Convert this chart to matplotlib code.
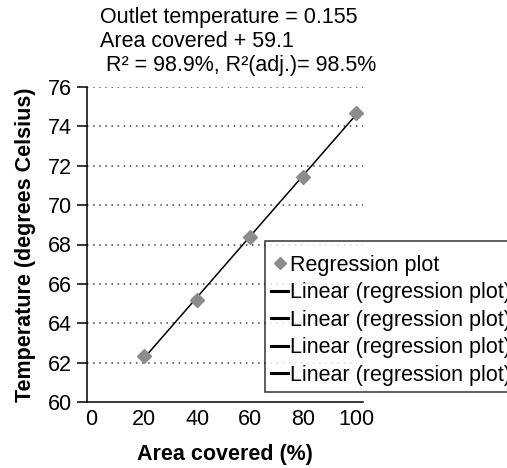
import numpy as np
import matplotlib
matplotlib.use("Agg")
import matplotlib.pyplot as plt
from matplotlib.lines import Line2D

plt.rcParams['font.family'] = ['Liberation Sans', 'DejaVu Sans']

# data
area = [20, 40, 60, 80, 100]
temp = [62.35, 65.2, 68.4, 71.45, 74.7]
y_ticks = [60, 62, 64, 66, 68, 70, 72, 74, 76]
x_ticks = [0, 20, 40, 60, 80, 100]

FS = 15.5

fig = plt.figure(figsize=(5.07, 4.68), dpi=100)
ax = fig.add_axes([87/507, 1 - 402/468, (363 - 87)/507, (402 - 87)/468])

# linear trend line through the points
k, b = np.polyfit(area, temp, 1)
xs = np.array([area[0], area[-1]])
ax.plot(xs, k * xs + b, color='black', lw=1.1, zorder=2)
ax.plot(area, temp, linestyle='none', marker='D', markersize=7.5,
        color='#8c8c8c', zorder=3)

ax.set_xlim(-1.5, 102.5)
ax.set_ylim(60, 76)
ax.set_yticks(y_ticks)
ax.set_xticks(x_ticks)
for yv in y_ticks[1:]:
    ax.axhline(yv, color='#444444', lw=1.1, linestyle=(0, (1, 3)), zorder=1)

for s in ['top', 'right']:
    ax.spines[s].set_visible(False)
ax.spines['left'].set_linewidth(1.1)
ax.spines['bottom'].set_linewidth(1.1)
ax.tick_params(axis='y', length=7, width=1.1, labelsize=FS, pad=4)
ax.tick_params(axis='x', length=0, labelsize=FS, pad=5)

ax.set_xlabel('Area covered (%)', fontsize=FS, fontweight='bold', labelpad=10)
ax.set_ylabel('Temperature (degrees Celsius)', fontsize=FS, fontweight='bold', labelpad=8)

fig.text(100/507, 1 - 7/468,
         'Outlet temperature = 0.155\nArea covered + 59.1\n R\u00b2 = 98.9%, R\u00b2(adj.)= 98.5%',
         fontsize=FS, ha='left', va='top', linespacing=1.2)

handles = [Line2D([], [], linestyle='none', marker='D', markersize=6, color='#8c8c8c')]
labels = ['Regression plot']
for i in range(4):
    handles.append(Line2D([], [], color='black', lw=2.2))
    labels.append('Linear (regression plot)')
leg = fig.legend(handles, labels, loc='upper left',
                 bbox_to_anchor=(265/507, 1 - 241/468), fontsize=FS,
                 frameon=True, fancybox=False, handlelength=0.75,
                 handletextpad=0.12, borderpad=0.3, labelspacing=0.3,
                 borderaxespad=0, title=' ', title_fontsize=1)
leg.get_frame().set_edgecolor('black')
leg.get_frame().set_linewidth(1.1)

fig.savefig('out.png', dpi=100)
